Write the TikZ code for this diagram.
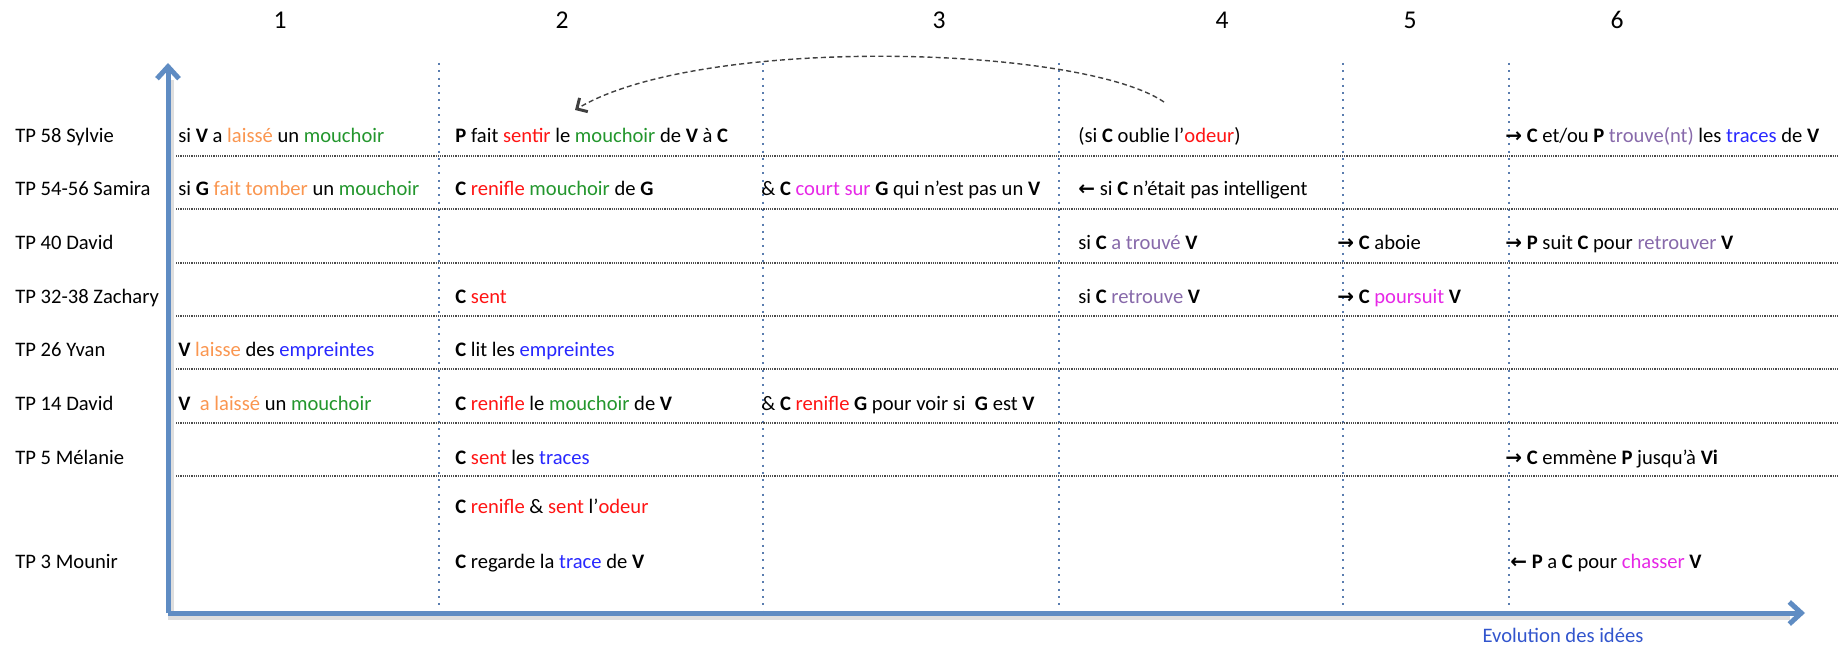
\documentclass[tikz,border=0pt]{standalone}
\usepackage{fontspec}
\setmainfont{Carlito}
\newfontfamily\arrowfont{DejaVu Sans}
\usetikzlibrary{
  arrows.meta,
  calc,
  positioning,
}
\definecolor{axisblue}{RGB}{95,140,195}
\definecolor{sepblue}{RGB}{90,125,175}
\definecolor{evolblue}{RGB}{50,85,205}
\definecolor{idorange}{RGB}{250,150,80}
\definecolor{idgreen}{RGB}{35,150,45}
\definecolor{idred}{RGB}{255,20,20}
\definecolor{idmagenta}{RGB}{230,40,230}
\definecolor{idpurple}{RGB}{135,105,170}
\definecolor{idblue}{RGB}{40,40,255}
\newcommand{\ag}[1]{\textbf{#1}}
\newcommand{\cOr}[1]{\textcolor{idorange}{#1}}
\newcommand{\cGr}[1]{\textcolor{idgreen}{#1}}
\newcommand{\cRd}[1]{\textcolor{idred}{#1}}
\newcommand{\cMg}[1]{\textcolor{idmagenta}{#1}}
\newcommand{\cPu}[1]{\textcolor{idpurple}{#1}}
\newcommand{\cBl}[1]{\textcolor{idblue}{#1}}
\newcommand{\toR}{{\arrowfont\bfseries\fontsize{10}{11}\selectfont →}}
\newcommand{\toL}{{\arrowfont\bfseries\fontsize{10}{11}\selectfont ←}}
\tikzset{
  >=Straight Barb[],
}

\begin{document}
\begin{tikzpicture}[x=0.5pt, y=-0.5pt,
    every node/.style={inner sep=0pt, anchor=base west, font=\fontsize{10.3}{12}\selectfont},
    colhead/.style={anchor=base, font=\fontsize{12.8}{14}\selectfont},
    axis/.style={axisblue, line width=2.5pt, -{Straight Barb[length=6pt,width=11pt]}},
    axisshadow/.style={black!13, line width=3pt},
    sep/.style={sepblue, line width=1pt, dash pattern=on 1pt off 2.65pt},
    rowline/.style={black!70, line width=0.7pt, dash pattern=on 0.6pt off 0.5pt},
    backarc/.style={black!75, line width=0.7pt, dash pattern=on 2.5pt off 1.6pt,
      -{Straight Barb[length=4pt,width=8pt,line width=1.5pt]}}]
  \useasboundingbox (0,0) rectangle (1838,647);

  % columns
  \node [colhead] (h1) at (280,29) {1};
  \node [colhead] (h2) at (562,29) {2};
  \node [colhead] (h3) at (939,29) {3};
  \node [colhead] (h4) at (1222,29) {4};
  \node [colhead] (h5) at (1410,29) {5};
  \node [colhead] (h6) at (1617,29) {6};

  \foreach \x in {439,1059,1343,1509}
    \draw [sep] (\x,63) -- (\x,607);
  \draw [sep] (763,63) -- (763,622);
  \foreach \y in {156,209,263,316,369,423,476}
    \draw [rowline] (176,\y) -- (1838,\y);

  % axes
  \coordinate (origin) at (168,613);
  \coordinate (ytop) at (168,63);
  \coordinate (xend) at (1805,613);
  \draw [axisshadow] (171,80) -- (171,617) -- (1790,617);
  \draw [axis] (origin) -- (ytop);
  \draw [axis] (origin) -- (xend);
  \node [anchor=base, text=evolblue] (evol) at (1563,642) {Evolution des idées};

  % students
  \node (tp58) at (15,143) {TP 58 Sylvie};
  \node (tp54) at (15,196) {TP 54-56 Samira};
  \node (tp40) at (15,249.5) {TP 40 David};
  \node (tp32) at (15,303) {TP 32-38 Zachary};
  \node (tp26) at (15,356) {TP 26 Yvan};
  \node (tp14) at (15,410) {TP 14 David};
  \node (tp5) at (15,464) {TP 5 Mélanie};
  \node (tp3) at (15,568.5) {TP 3 Mounir};

  % Sylvie
  \node (s1) at (178,143) {si \ag{V} a \cOr{laissé} un \cGr{mouchoir}};
  \node (s2) at (455,143) {\ag{P} fait \cRd{sentir} le \cGr{mouchoir} de \ag{V} à \ag{C}};
  \node (s4) at (1078,143) {(si \ag{C} oublie l’\cRd{odeur})};
  \node (s6) at (1505,143) {\toR\ \ag{C} et/ou \ag{P} \cPu{trouve(nt)} les \cBl{traces} de \ag{V}};
  % Samira
  \node (m1) at (178,196) {si \ag{G} \cOr{fait tomber} un \cGr{mouchoir}};
  \node (m2) at (455,196) {\ag{C} \cRd{renifle} \cGr{mouchoir} de \ag{G}};
  \node (m3) at (761,196) {\& \ag{C} \cMg{court sur} \ag{G} qui n’est pas un \ag{V}};
  \node (m4) at (1078,196) {\toL\ si \ag{C} n’était pas intelligent};
  % David 40
  \node (d4) at (1078,249.5) {si \ag{C} \cPu{a trouvé} \ag{V}};
  \node (d5) at (1337,249.5) {\toR\ \ag{C} aboie};
  \node (d6) at (1505,249.5) {\toR\ \ag{P} suit \ag{C} pour \cPu{retrouver} \ag{V}};
  % Zachary
  \node (z2) at (455,303) {\ag{C} \cRd{sent}};
  \node (z4) at (1078,303) {si \ag{C} \cPu{retrouve} \ag{V}};
  \node (z5) at (1337,303) {\toR\ \ag{C} \cMg{poursuit} \ag{V}};
  % Yvan
  \node (y1) at (178,356) {\ag{V} \cOr{laisse} des \cBl{empreintes}};
  \node (y2) at (455,356) {\ag{C} lit les \cBl{empreintes}};
  % David 14
  \node (e1) at (178,410) {\ag{V}\ \ \cOr{a laissé} un \cGr{mouchoir}};
  \node (e2) at (455,410) {\ag{C} \cRd{renifle} le \cGr{mouchoir} de \ag{V}};
  \node (e3) at (761,410) {\& \ag{C} \cRd{renifle} \ag{G} pour voir si\ \ \ag{G} est \ag{V}};
  % Melanie
  \node (l2) at (455,464) {\ag{C} \cRd{sent} les \cBl{traces}};
  \node (l6) at (1505,464) {\toR\ \ag{C} emmène \ag{P} jusqu'à \ag{Vi}};
  % Mounir
  \node (u2) at (455,513) {\ag{C} \cRd{renifle} \& \cRd{sent} l’\cRd{odeur}};
  \node (u2b) at (455,568.5) {\ag{C} regarde la \cBl{trace} de \ag{V}};
  \node (u6) at (1510,568.5) {\toL\ \ag{P} a \ag{C} pour \cMg{chasser} \ag{V}};

  \draw [backarc] ($(s4.base west)+(86,-41)$)
    .. controls ($(s4.base west)+(2,-98)$) and ($(s2.base west)+(245,-108)$)
    .. ($(s2.base west)+(120,-33)$);
\end{tikzpicture}
\end{document}
